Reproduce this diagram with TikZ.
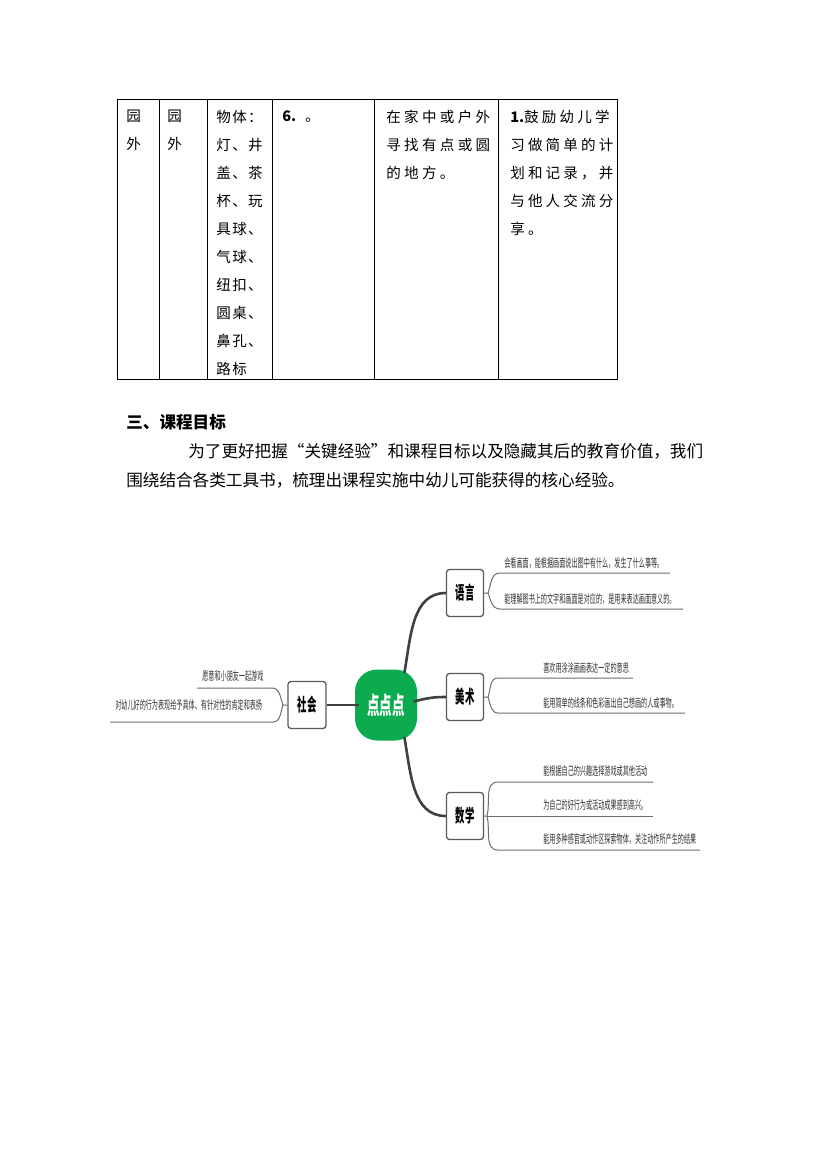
\documentclass[tikz,border=0pt]{standalone}
\usepackage{fontspec}
\newfontfamily\cjk{Noto Sans CJK SC}
\usepackage{graphicx}
\usepackage{tikz}
\usepackage{xcolor}

\newdimen\pxu \pxu=0.2539mm
\newcommand{\squeeze}[1]{\scalebox{0.52}[1]{#1}}
\definecolor{mmgreen}{RGB}{13,171,79}
\definecolor{boxgray}{RGB}{90,90,90}
\definecolor{twiggray}{RGB}{110,110,110}
\definecolor{trunkgray}{RGB}{64,64,64}
\definecolor{leafgray}{RGB}{50,50,50}

\begin{document}
\begin{tikzpicture}[
    x=\pxu, y=-\pxu,
    every node/.style={font=\cjk, inner sep=0pt},
    grid/.style={draw=black, line width=1\pxu},
    cell/.style={anchor=north west, align=left,
    font=\cjk\fontsize{10.5pt}{20.23pt}\selectfont\addfontfeature{LetterSpace=#1}},
    cell/.default=0,
    prose/.style={anchor=west, font=\cjk\fontsize{12pt}{12pt}\selectfont},
    hub/.style={fill=mmgreen, rounded corners=22\pxu, minimum width=62\pxu,
    minimum height=71\pxu, text=white, font=\cjk\bfseries\fontsize{17.3pt}{17.3pt}\selectfont},
    topic/.style={draw=boxgray, fill=white, rounded corners=3\pxu, line width=1.3\pxu,
    minimum width=37\pxu, minimum height=47\pxu, font=\cjk\bfseries\fontsize{13pt}{13pt}\selectfont},
    trunk/.style={draw=trunkgray, line width=2.6\pxu, shorten <=-4\pxu},
    twig/.style={draw=twiggray, line width=1\pxu},
    leaf/.style={anchor=west, text=leafgray, font=\cjk\fontsize{8.5pt}{8.5pt}\selectfont}
]

\useasboundingbox[fill=white] (0,0) rectangle (827,1170);

\draw[grid] (117,100) rectangle (617,379);
\foreach \c in {159,207,272,374,498}
    \draw[grid] (\c,100) -- (\c,379);

\node[cell] (place1) at (126,110) {园\\外};
\node[cell] (place2) at (167,110) {园\\外};
\node[cell=10] (things) at (216,110) {物体：\\灯、井\\盖、茶\\杯、玩\\具球、\\气球、\\纽扣、\\圆桌、\\鼻孔、\\路标};
\node[cell] (step6) at (282,110) {{\bfseries 6.}\hspace{9\pxu}。};
\node[cell=23] (task) at (386,110) {在家中或户外\\寻找有点或圆\\的地方。};
\node[cell=22] (aim) at (510,110) {{\bfseries\addfontfeature{LetterSpace=0}1.}鼓励幼儿学\\习做简单的计\\划和记录，并\\与他人交流分\\享。};

\node[prose] (title) at (126,422) {\bfseries 三、课程目标};
\node[prose] (para1) at (188,451) {为了更好把握“关键经验”和课程目标以及隐藏其后的教育价值，我们};
\node[prose] (para2) at (126,480) {围绕结合各类工具书，梳理出课程实施中幼儿可能获得的核心经验。};

\node[hub] (ddd) at (386,705) {\squeeze{点点点}};
\node[topic, minimum width=38\pxu] (shehui) at (307,705) {\squeeze{社会}};
\node[topic] (yuyan) at (465,593) {\squeeze{语言}};
\node[topic] (meishu) at (465,697) {\squeeze{美术}};
\node[topic] (shuxue) at (465,816) {\squeeze{数学}};

\draw[trunk] (ddd.west) -- (shehui.east);
\draw[trunk] (ddd.62) to[out=80,in=180] (yuyan.west);
\draw[trunk] (ddd.8) to[out=15,in=180] (meishu.west);
\draw[trunk] (ddd.-62) to[out=-80,in=180] (shuxue.west);

\coordinate (yy0) at (488,593);
\coordinate (yy1) at (670,573);
\coordinate (yy2) at (683,609);
\draw[twig] (yuyan.east) -- (yy0) to[out=70,in=180] ++(12,-20) -- (yy1);
\draw[twig] (yy0) to[out=-70,in=180] ++(12,16) -- (yy2);
\node[leaf] (yy-t1) at (504,563) {\squeeze{会看画面，能根据画面说出图中有什么，发生了什么事等。}};
\node[leaf] (yy-t2) at (504,599) {\squeeze{能理解图书上的文字和画面是对应的，是用来表达画面意义的。}};

\coordinate (ms0) at (488,697);
\coordinate (ms1) at (633,678);
\coordinate (ms2) at (685,713);
\draw[twig] (meishu.east) -- (ms0) to[out=70,in=180] ++(10,-19) -- (ms1);
\draw[twig] (ms0) to[out=-70,in=180] ++(10,16) -- (ms2);
\node[leaf] (ms-t1) at (543,668) {\squeeze{喜欢用涂涂画画表达一定的意思}};
\node[leaf] (ms-t2) at (543,703) {\squeeze{能用简单的线条和色彩画出自己想画的人或事物。}};

\coordinate (sx0) at (487,816);
\coordinate (sx1) at (653,782);
\coordinate (sx2) at (653,816);
\coordinate (sx3) at (700,850);
\draw[twig] (shuxue.east) -- (sx0) to[out=75,in=180] ++(11,-34) -- (sx1);
\draw[twig] (sx0) -- (sx2);
\draw[twig] (sx0) to[out=-75,in=180] ++(11,34) -- (sx3);
\node[leaf] (sx-t1) at (543,771) {\squeeze{能根据自己的兴趣选择游戏或其他活动}};
\node[leaf] (sx-t2) at (543,805) {\squeeze{为自己的好行为或活动成果感到高兴。}};
\node[leaf] (sx-t3) at (543,839) {\squeeze{能用多种感官或动作区探索物体，关注动作所产生的结果}};

\coordinate (sh0) at (283,705);
\coordinate (sh1) at (197,688);
\coordinate (sh2) at (110,722);
\draw[twig] (shehui.west) -- (sh0) to[out=110,in=0] ++(-11,-17) -- (sh1);
\draw[twig] (sh0) to[out=-110,in=0] ++(-10,17) -- (sh2);
\node[leaf] (sh-t1) at (202,676) {\squeeze{愿意和小朋友一起游戏}};
\node[leaf] (sh-t2) at (115,705) {\squeeze{对幼儿好的行为表现给予具体、有针对性的肯定和表扬}};

\end{tikzpicture}
\end{document}
